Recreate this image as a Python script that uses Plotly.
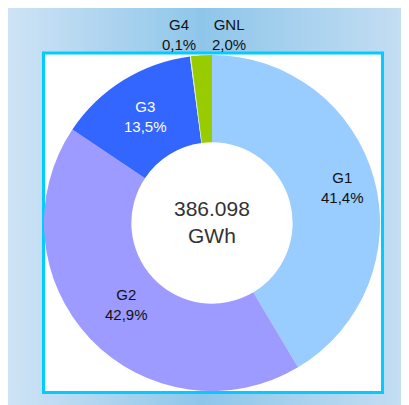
import math
import plotly.graph_objects as go

# data
labels = ["G1", "G2", "G3", "G4", "GNL"]
shares = [41.4, 42.9, 13.5, 0.1, 2.0]
total_label = "386.098<br>GWh"
side_caption = "Gráfico 3.1"

slice_colors = ["#99ccff", "#9d9bff", "#3366ff", "#dff5d0", "#99cc00"]
text_colors = ["#111111", "#111111", "#ffffff", "#111111", "#111111"]

W, H = 409, 405
FONT = "Liberation Sans"

# pie geometry in pixels (div coordinates)
CX, CY, R = 204, 215, 168
label_radius = [135, 118, 126]


def px(x):
    return x / W


def py(y):
    return 1 - y / H


def mix(c1, c2, t):
    return "rgb(%d,%d,%d)" % tuple(round(a + (b - a) * t) for a, b in zip(c1, c2))


def note(text, x, y, size, color, **kw):
    return dict(text=text, x=px(x), y=py(y), xref="paper", yref="paper",
                xanchor="center", yanchor="middle", showarrow=False,
                font=dict(family=FONT, size=size, color=color), **kw)


# horizontal gradient background (light at the edges, darker in the middle)
light_l = (206, 227, 245)
dark = (142, 198, 234)
light_r = (200, 223, 243)
shapes = []
x0, step, mid = 0, 3, 195
while x0 < W:
    xm = x0 + step / 2
    if xm < mid:
        c = mix(light_l, dark, xm / mid)
    else:
        c = mix(dark, light_r, (xm - mid) / (W - mid))
    shapes.append(dict(type="rect", xref="paper", yref="paper", layer="below",
                       x0=px(x0), x1=px(min(x0 + step + 0.5, W)), y0=0, y1=1,
                       fillcolor=c, line_width=0))
    x0 += step

# white box with cyan frame
shapes.append(dict(type="rect", xref="paper", yref="paper", layer="below",
                   x0=px(35.5), x1=px(374.5), y0=py(384.5), y1=py(45),
                   fillcolor="white", line=dict(color="#00ccff", width=3)))

fig = go.Figure(go.Pie(
    labels=labels, values=shares,
    sort=False, direction="clockwise", rotation=0,
    hole=0.48,
    marker=dict(colors=slice_colors, line=dict(width=0)),
    textinfo="none",
    domain=dict(x=[px(CX - R), px(CX + R)], y=[py(CY + R), py(CY - R)]),
    hoverinfo="label+percent",
))

annotations = [
    note(total_label, CX, CY - 1, 21, "#333333"),
    note(side_caption, -5, 360, 12, "#2a96d8", textangle=-90),
]

# labels for the big slices sit at the middle angle of each slice
total = sum(shares)
cum = 0
for i, (lab, val) in enumerate(zip(labels, shares)):
    mid_ang = math.radians((cum + val / 2) / total * 360)
    cum += val
    if i < len(label_radius):
        r = label_radius[i]
        txt = "%s<br>%s%%" % (lab, ("%.1f" % val).replace(".", ","))
        annotations.append(note(txt, CX + r * math.sin(mid_ang), CY - r * math.cos(mid_ang),
                                15, text_colors[i]))

# the two tiny slices are labelled above the box
small_x = {"G4": 171, "GNL": 221}
for i, (lab, val) in enumerate(zip(labels, shares)):
    if lab in small_x:
        txt = "%s<br>%s%%" % (lab, ("%.1f" % val).replace(".", ","))
        annotations.append(note(txt, small_x[lab], 26, 15, text_colors[i]))

fig.update_layout(
    width=W, height=H,
    margin=dict(l=0, r=0, t=0, b=0),
    paper_bgcolor="white",
    showlegend=False,
    shapes=shapes,
    annotations=annotations,
    font=dict(family=FONT),
)

fig.write_html("out.html")
